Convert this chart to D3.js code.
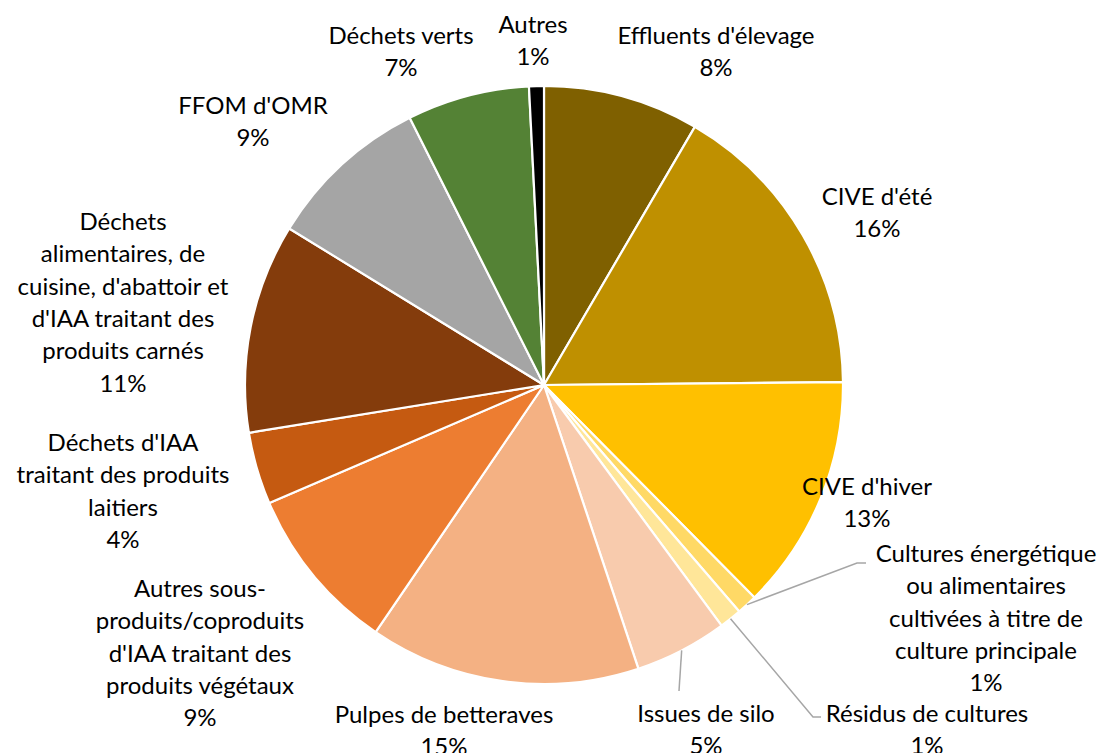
<!DOCTYPE html>
<html><head><meta charset="utf-8">
<script src="https://cdn.jsdelivr.net/npm/d3@7"></script>
<style>
html,body{margin:0;padding:0;background:#fff;}
text{font-family:Lato,"Open Sans",sans-serif;fill:#000;}
</style></head>
<body><svg id="chart" width="1102" height="753"></svg>
<script>
// ---- data ----
const categories = [
  "Effluents d'élevage",
  "CIVE d'été",
  "CIVE d'hiver",
  "Cultures énergétique ou alimentaires cultivées à titre de culture principale",
  "Résidus de cultures",
  "Issues de silo",
  "Pulpes de betteraves",
  "Autres sous-produits/coproduits d'IAA traitant des produits végétaux",
  "Déchets d'IAA traitant des produits laitiers",
  "Déchets alimentaires, de cuisine, d'abattoir et d'IAA traitant des produits carnés",
  "FFOM d'OMR",
  "Déchets verts",
  "Autres"
];
const values = [8.4, 16.4, 12.7, 1.1, 1.2, 5.0, 14.6, 9.0, 3.9, 11.3, 8.8, 6.6, 0.8];
const colors = ["#7F6000","#BF9000","#FFC000","#FFD966","#FFE699","#F8CBAD","#F4B183",
                "#ED7D31","#C55A11","#843C0C","#A5A5A5","#548235","#000000"];
// label text lines (wrapped as in the original)
const labelLines = [
  ["Effluents d'élevage"],
  ["CIVE d'été"],
  ["CIVE d'hiver"],
  ["Cultures énergétique","ou alimentaires","cultivées à titre de","culture principale"],
  ["Résidus de cultures"],
  ["Issues de silo"],
  ["Pulpes de betteraves"],
  ["Autres sous-","produits/coproduits","d'IAA traitant des","produits végétaux"],
  ["Déchets d'IAA","traitant des produits","laitiers"],
  ["Déchets","alimentaires, de","cuisine, d'abattoir et","d'IAA traitant des","produits carnés"],
  ["FFOM d'OMR"],
  ["Déchets verts"],
  ["Autres"]
];

// ---- layout ----
const cx = 544, cy = 385, R = 299, lineH = 32.3, yShift = -1.5;
// label anchor (center x, first-line center y)
const labelPos = [
  [716,36],[877,197],[867,487],[986,554],[927,714],[706,714],[444,715],
  [200,589],[123,443],[123,222],[253,106],[401,36],[533,25]
];
// leader lines: [elbow, end] for slices with a leader
const leaders = {
  3: [[857,563],[866,563]],
  4: [[813,717],[821,717]],
  5: [[679,691]]
};

const svg = d3.select("#chart");
const g = svg.append("g").attr("transform", `translate(${cx},${cy})`);
const total = d3.sum(values);
const pie = d3.pie().sort(null).value(d => d)(values);
const arc = d3.arc().innerRadius(0).outerRadius(R);

g.selectAll("path.slice").data(pie).join("path")
  .attr("class","slice")
  .attr("d", arc)
  .attr("fill", (d,i) => colors[i])
  .attr("stroke", "#fff").attr("stroke-width", 2.2).attr("stroke-linejoin","round");

// leader lines
pie.forEach((d,i) => {
  if (!leaders[i]) return;
  const a = (d.startAngle + d.endAngle)/2;
  const p0 = [cx + R*Math.sin(a), cy - R*Math.cos(a)];
  const pts = [p0, ...leaders[i]];
  svg.append("path")
    .attr("d", d3.line()(pts))
    .attr("fill","none").attr("stroke","#A6A6A6").attr("stroke-width",1.5);
});

// labels
const fmt = v => Math.round(v/total*100) + "%";
pie.forEach((d,i) => {
  const lines = labelLines[i].concat([fmt(values[i])]);
  const x0 = labelPos[i][0], y0 = labelPos[i][1] + yShift;
  const t = svg.append("text")
    .attr("text-anchor","middle")
    .attr("font-size", 24)
    .attr("x", x0).attr("y", y0);
  lines.forEach((l,k) => {
    t.append("tspan").attr("x", x0).attr("y", y0 + k*lineH)
      .attr("dominant-baseline","central").text(l);
  });
});
</script></body></html>
